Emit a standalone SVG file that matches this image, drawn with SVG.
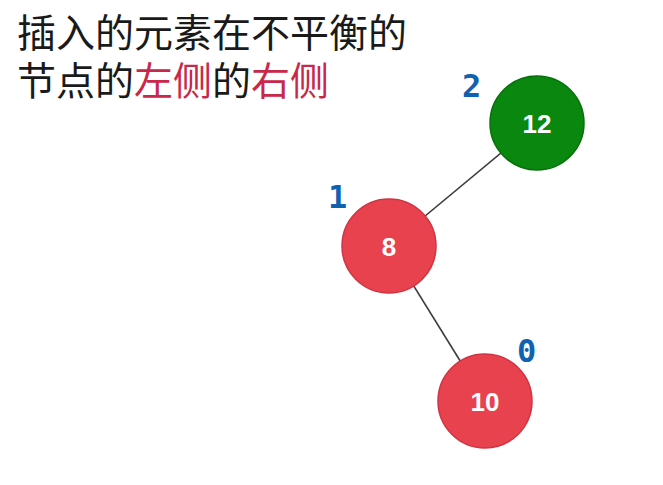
<svg xmlns="http://www.w3.org/2000/svg" width="663" height="485" viewBox="0 0 663 485">
<style>
.title{font-family:"Noto Sans CJK SC","Noto Sans",sans-serif;font-size:39px;fill:#1a1a1a}
.hl{fill:#c8284a}
.node-text{font-family:"Liberation Sans",Arial,sans-serif;font-weight:bold;font-size:26px;fill:#ffffff;text-anchor:middle}
.bal{font-family:"DejaVu Sans Mono","Liberation Mono",monospace;font-weight:bold;font-size:32px;fill:#0f62b0}
.red{fill:#e8424f;stroke:#cf3442;stroke-width:1.5}
.green{fill:#0a870e;stroke:#07700a;stroke-width:1.5}
.edge{stroke:#3c3c3c;stroke-width:1.6;fill:none}
</style>
<rect width="663" height="485" fill="#ffffff"/>
<text class="title" x="17" y="47">插入的元素在不平衡的</text>
<text class="title" x="17" y="95">节点的<tspan class="hl">左侧</tspan>的<tspan class="hl">右侧</tspan></text>
<g id="edges">
<line class="edge" x1="537" y1="123" x2="389" y2="246"/>
<line class="edge" x1="389" y1="246" x2="485" y2="401"/>
</g>
<g id="node-12">
<circle class="green" cx="537" cy="123" r="47"/>
<text class="node-text" x="537" y="133">12</text>
<text class="bal" x="462" y="97">2</text>
</g>
<g id="node-8">
<circle class="red" cx="389" cy="246" r="47"/>
<text class="node-text" x="389" y="256">8</text>
<text class="bal" x="328" y="208">1</text>
</g>
<g id="node-10">
<circle class="red" cx="485" cy="401" r="47"/>
<text class="node-text" x="485" y="411">10</text>
<text class="bal" x="517" y="362">0</text>
</g>
</svg>
